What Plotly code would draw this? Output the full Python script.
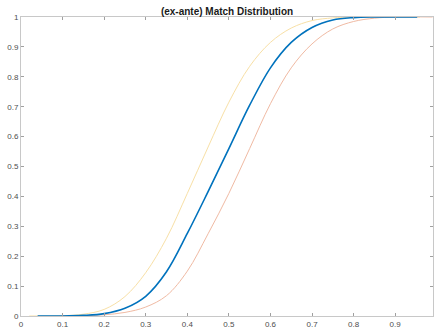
import plotly.graph_objects as go

# Blue (main) curve
blue_x = [0.04, 0.10, 0.15, 0.20, 0.25, 0.30, 0.35, 0.40, 0.45, 0.50, 0.55, 0.60, 0.65, 0.70, 0.75, 0.80, 0.85, 0.953]
blue_y = [0.0, 0.0, 0.002, 0.008, 0.026, 0.066, 0.148, 0.276, 0.416, 0.56, 0.705, 0.83, 0.915, 0.965, 0.99, 0.998, 1.0, 1.0]

# Yellow (lower bound) curve
yel_x = [0.02, 0.10, 0.15, 0.20, 0.25, 0.30, 0.35, 0.40, 0.45, 0.50, 0.55, 0.60, 0.65, 0.70, 0.75, 0.80, 0.96]
yel_y = [0.0, 0.001, 0.006, 0.022, 0.065, 0.145, 0.26, 0.41, 0.565, 0.715, 0.835, 0.915, 0.963, 0.988, 0.997, 1.0, 1.0]

# Orange (upper bound) curve
org_x = [0.10, 0.15, 0.20, 0.25, 0.30, 0.35, 0.40, 0.45, 0.50, 0.55, 0.60, 0.65, 0.70, 0.75, 0.80, 0.85, 0.90, 0.99]
org_y = [0.0, 0.001, 0.004, 0.012, 0.03, 0.068, 0.15, 0.275, 0.41, 0.56, 0.71, 0.83, 0.91, 0.96, 0.985, 0.996, 1.0, 1.0]

x_ticks = [0, 0.1, 0.2, 0.3, 0.4, 0.5, 0.6, 0.7, 0.8, 0.9]
y_ticks = [0, 0.1, 0.2, 0.3, 0.4, 0.5, 0.6, 0.7, 0.8, 0.9, 1]
title_text = "(ex-ante) Match Distribution"

fig = go.Figure()
fig.add_trace(go.Scatter(x=yel_x, y=yel_y, mode="lines", line=dict(color="rgb(248,224,166)", width=1, shape="spline", smoothing=1)))
fig.add_trace(go.Scatter(x=org_x, y=org_y, mode="lines", line=dict(color="rgb(240,186,163)", width=1, shape="spline", smoothing=1)))
fig.add_trace(go.Scatter(x=blue_x, y=blue_y, mode="lines", line=dict(color="#0072BD", width=1.6, shape="spline", smoothing=1)))

axis_common = dict(
    showgrid=False, zeroline=False, showline=True, linecolor="#c8c8c8", linewidth=1,
    ticks="inside", ticklen=3, tickcolor="#a0a0a0", mirror="ticks",
    tickfont=dict(family="Liberation Sans, Arial", size=8, color="#4d4d4d"),
)

fig.update_layout(
    width=436, height=331,
    margin=dict(l=21, r=2, t=17, b=10),
    paper_bgcolor="white", plot_bgcolor="white",
    showlegend=False,
    title=dict(text="<b>" + title_text + "</b>", x=0.5, xanchor="center", xref="paper",
               y=1 - 11 / 331, yanchor="middle",
               font=dict(family="Liberation Sans, Arial", size=10, color="#1a1a1a")),
    xaxis=dict(range=[0, 0.991], tickvals=x_ticks, ticktext=[str(v) for v in x_ticks], **axis_common),
    yaxis=dict(range=[0, 1], tickvals=y_ticks, ticktext=[str(v) for v in y_ticks], **axis_common),
)

fig.write_html("out.html")
